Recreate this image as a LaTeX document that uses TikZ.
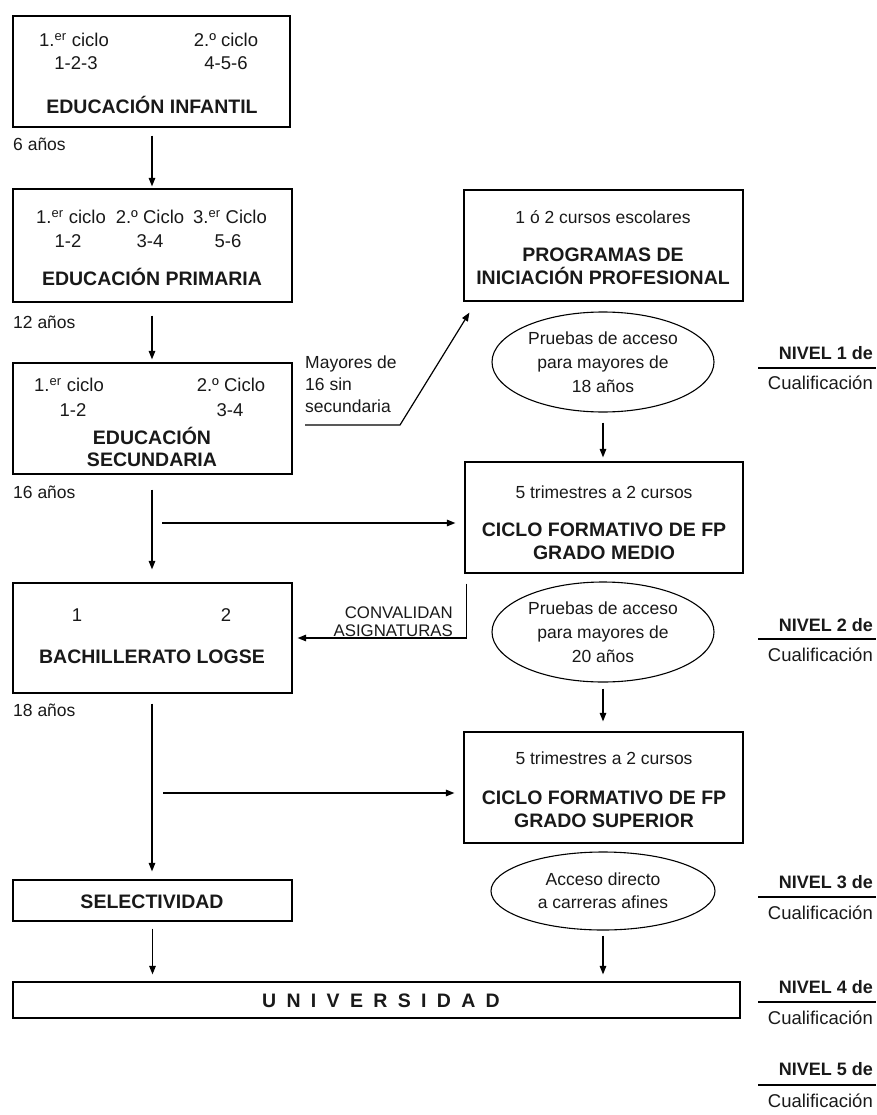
\documentclass[tikz,border=0pt]{standalone}
\usepackage{fontspec}
\setmainfont{Liberation Sans}
\usetikzlibrary{arrows.meta,shapes.geometric,fit,calc}
\newcommand\ntxt{\fontsize{17.5}{24}\selectfont}
\newcommand\ctxt{\fontsize{18.5}{24}\selectfont}
\newcommand\btxt{\fontsize{19.5}{22.5}\selectfont\bfseries}
\newcommand\nvtxt{\fontsize{18}{22}\selectfont\bfseries}
\newcommand\cutxt{\fontsize{18.5}{22}\selectfont}
\begin{document}
\begin{tikzpicture}[x=1pt,y=-1pt,
  box/.style={draw, line width=1.2pt, inner sep=0pt},
  lbl/.style={font=\ntxt, inner sep=0pt, text=black!90},
  cyc/.style={font=\ctxt, inner sep=0pt, text=black!90},
  ttl/.style={font=\btxt, inner sep=0pt, align=center, text=black!90},
  ell/.style={draw, ellipse, line width=1.1pt, inner sep=0pt, minimum width=222pt, minimum height=100pt, align=center, font=\ntxt, text=black!90},
  arr/.style={line width=1.2pt, -{Triangle[length=8.5pt,width=6.5pt]}},
  rule/.style={line width=1.1pt},
  nv/.style={font=\nvtxt, inner sep=0pt, anchor=east, text=black!90},
  cu/.style={font=\cutxt, inner sep=0pt, anchor=east, text=black!90}]
\useasboundingbox (0,0) rectangle (876,1115);

% ---------- Educación infantil
\node[box, fit={(13,16) (290,127)}] (inf) {};
\node[cyc] (inf1) at (74,40) {1.\textsuperscript{er} ciclo};
\node[cyc] (inf2) at (226,40) {2.º ciclo};
\node[cyc] (inf3) at (76,63) {1-2-3};
\node[cyc] (inf4) at (226,63) {4-5-6};
\node[ttl] (inft) at (152,105) {EDUCACIÓN INFANTIL};
\node[lbl, anchor=west] (age6) at (13,144) {6 años};

% ---------- Educación primaria
\node[box, fit={(13,189) (292,302)}] (pri) {};
\node[cyc] (pri1) at (71,217) {1.\textsuperscript{er} ciclo};
\node[cyc] (pri2) at (150,217) {2.º Ciclo};
\node[cyc] (pri3) at (230,217) {3.\textsuperscript{er} Ciclo};
\node[cyc] (pri4) at (68,241) {1-2};
\node[cyc] (pri5) at (150,241) {3-4};
\node[cyc] (pri6) at (228,241) {5-6};
\node[ttl] (prit) at (152,277) {EDUCACIÓN PRIMARIA};
\node[lbl, anchor=west] (age12) at (13,322) {12 años};

% ---------- Educación secundaria
\node[box, fit={(13,363) (292,474)}] (sec) {};
\node[cyc] (sec1) at (69,385) {1.\textsuperscript{er} ciclo};
\node[cyc] (sec2) at (231,385) {2.º Ciclo};
\node[cyc] (sec3) at (73,410) {1-2};
\node[cyc] (sec4) at (230,410) {3-4};
\node[ttl] (sect) at (152,447) {EDUCACIÓN\\SECUNDARIA};
\node[lbl, anchor=west] (age16) at (13,492) {16 años};

% ---------- Mayores de 16
\node[lbl, anchor=north west, align=left, font=\fontsize{17.5}{22}\selectfont] (may) at (305,356) {Mayores de\\16 sin\\secundaria};

% ---------- Bachillerato
\node[box, fit={(13,583) (292,693)}] (bach) {};
\node[cyc] (bach1) at (77,615) {1};
\node[cyc] (bach2) at (226,615) {2};
\node[ttl] (bacht) at (152,657) {BACHILLERATO LOGSE};
\node[lbl, anchor=west] (age18) at (13,710) {18 años};

% ---------- Selectividad
\node[box, fit={(13,880) (292,921)}] (sel) {};
\node[ttl] (selt) at (152,902) {SELECTIVIDAD};

% ---------- Universidad
\node[box, fit={(13,982) (740,1018)}] (univ) {};
\node[ttl] (univt) at (381,1001) {\addfontfeature{LetterSpace=53}UNIVERSIDAD};

% ---------- Programas de iniciación profesional
\node[box, fit={(464,190) (743,301)}] (prog) {};
\node[lbl] (prog1) at (603,217) {1 ó 2 cursos escolares};
\node[ttl] (progt) at (603,266.5) {PROGRAMAS DE\\INICIACIÓN PROFESIONAL};

\node[ell] (e1) at (603,362) {Pruebas de acceso\\para mayores de\\18 años};

% ---------- FP grado medio
\node[box, fit={(465,462) (743,573)}] (fpm) {};
\node[lbl] (fpm1) at (604,492) {5 trimestres a 2 cursos};
\node[ttl] (fpmt) at (604,541.5) {CICLO FORMATIVO DE FP\\GRADO MEDIO};

\node[ell] (e2) at (603,632) {Pruebas de acceso\\para mayores de\\20 años};

\node[lbl, anchor=east, align=right, font=\fontsize{16.8}{17.5}\selectfont] (conv) at (453,621.5) {CONVALIDAN\\ASIGNATURAS};

% ---------- FP grado superior
\node[box, fit={(464,732) (743,843)}] (fps) {};
\node[lbl] (fps1) at (604,758) {5 trimestres a 2 cursos};
\node[ttl] (fpst) at (604,809.5) {CICLO FORMATIVO DE FP\\GRADO SUPERIOR};

\node[ell, minimum width=224pt, minimum height=78pt, font=\fontsize{17.5}{23}\selectfont] (e3) at (603,891) {Acceso directo\\a carreras afines};

% ---------- Niveles
\foreach \i/\ya/\yl/\yb in {1/353/368/383, 2/625/639/655, 3/882/897/913, 4/987/1002/1018, 5/1069/1085/1101} {
  \node[nv] (nv\i) at (873,\ya) {NIVEL \i\ de};
  \coordinate (nl\i a) at (758,\yl);
  \coordinate (nl\i b) at (876,\yl);
  \draw[rule] (nl\i a) -- (nl\i b);
  \node[cu] (cu\i) at (873,\yb) {Cualificación};
}

% ---------- Connectors
\draw[arr, shorten <=8pt, shorten >=2pt] (inf.south -| inft) -- (pri.north -| inft);
\draw[arr, shorten <=13pt, shorten >=3pt] (pri.south -| prit) -- (sec.north -| prit);
\draw[arr, shorten <=15pt, shorten >=13pt] (sec.south -| sect) -- (bach.north -| sect);
\draw[arr, shorten <=10pt, shorten >=8pt] (bach.south -| bacht) -- (sel.north -| bacht);
\draw[arr, shorten <=7pt, shorten >=7pt] (sel.south) -- (sel.south |- univ.north);

\coordinate (h1s) at (162,523);
\draw[arr, shorten >=9pt] (h1s) -- (h1s -| fpm.west);
\coordinate (h2s) at (163,793);
\draw[arr, shorten >=9pt] (h2s) -- (h2s -| fps.west);

\coordinate (m1) at (305,425);
\coordinate (m2) at (400,425);
\draw[arr] (m1) -- (m2) -- ([shift={(6pt,-11pt)}]prog.south west);

\draw[arr, shorten <=10pt, shorten >=4pt] (e1.south) -- (e1.south |- fpm.north);
\draw[arr, shorten <=6pt, shorten >=10pt] (e2.south) -- (e2.south |- fps.north);
\draw[arr, shorten <=5pt, shorten >=7pt] (e3.south) -- (e3.south |- univ.north);

\draw[arr] ([shift={(2pt,-10pt)}]fpm.south west) |- ([xshift=5pt]bach.east);
\end{tikzpicture}
\end{document}
